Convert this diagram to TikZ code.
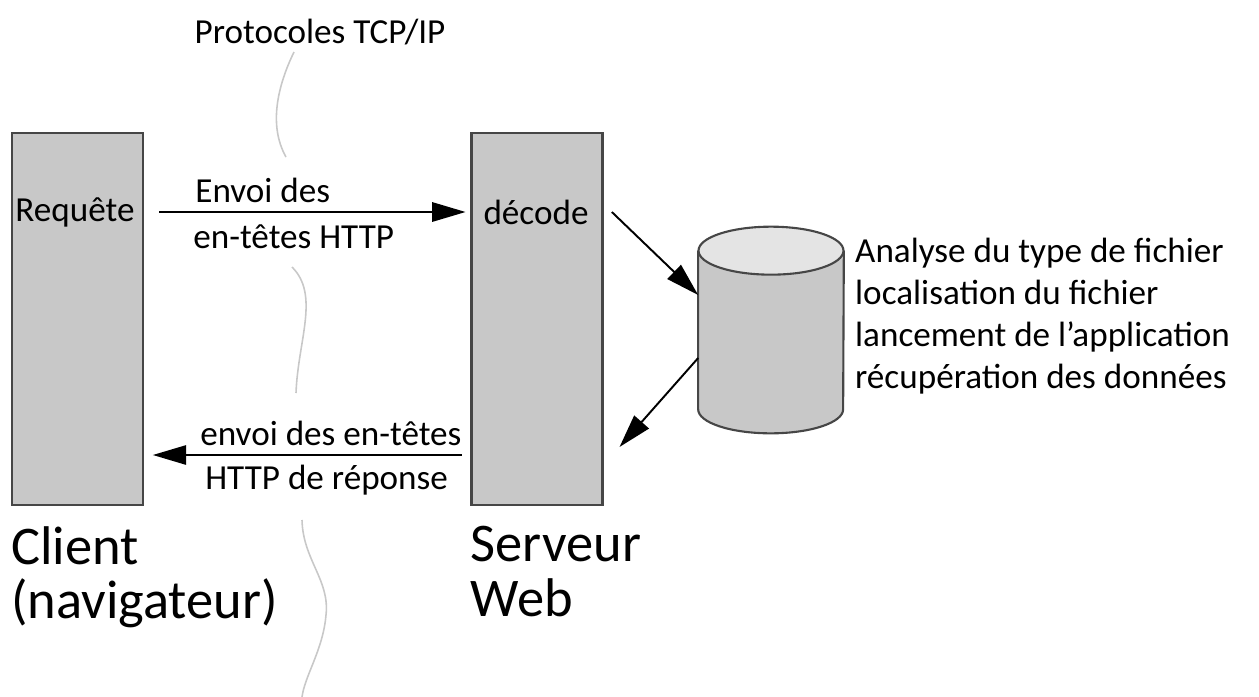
\documentclass[tikz,border=0pt]{standalone}
\usepackage{fontspec}
\setmainfont{Carlito}
\usetikzlibrary{arrows.meta,positioning}

\definecolor{boxgray}{RGB}{200,200,200}
\definecolor{edgegray}{RGB}{70,70,70}
\definecolor{topgray}{RGB}{228,228,228}
\definecolor{wavegray}{RGB}{200,200,200}

\tikzset{
  host/.style={draw=edgegray, fill=boxgray, line width=1.2pt,
    minimum width=2.62cm, minimum height=7.44cm, inner sep=0pt},
  db/.style={minimum width=2.9cm, minimum height=4.12cm, inner sep=0pt},
  dbline/.style={draw=edgegray, line width=1.2pt},
  lbl/.style={font=\fontsize{20}{24}\selectfont, inner sep=0pt, align=left},
  big/.style={font=\fontsize{31}{31}\selectfont, inner sep=0pt, align=left},
  msg/.style={-{Triangle[length=19pt,width=11pt]}, line width=1.1pt},
  wave/.style={draw=wavegray, line width=0.9pt},
}

\begin{document}
\begin{tikzpicture}[x=0.02cm, y=-0.02cm]
    \useasboundingbox (0,0) rectangle (1259,697);

    % Protocol boundary
    \node[lbl] (tcp) at (320,32) {Protocoles TCP/IP};
    \draw[wave] (294,52) .. controls (278,85) and (268,125) .. (286,157);
    \draw[wave] (292,267) .. controls (320,295) and (298,340) .. (296,393);
    \draw[wave] (302,520) .. controls (303,560) and (330,580) .. (326,615)
        .. controls (323,650) and (305,675) .. (302,697);

    % Hosts
    \node[host] (client) at (77.5,319) {};
    \node[host] (serveur) at (537,319) {};
    \node[lbl] (requete) at (75,212) {Requête};
    \node[lbl] (decode) at (536,212) {décode};
    \node[big, below right=0.4cm and 0cm of client.south west] (nclient) {Client\\(navigateur)};
    \node[big, below right=0.4cm and 0cm of serveur.south west] (nserveur) {Serveur\\Web};

    % Request
    \node[lbl, anchor=west] (envoi) at (195,190) {Envoi des};
    \node[lbl, anchor=west] (entetes) at (193,237) {en-têtes HTTP};
    \draw[msg, shorten <=14pt, shorten >=10pt] (requete) -- (decode);

    % Response
    \coordinate (retour) at (300,455);
    \node[lbl, anchor=west] (envoir) at (200,433) {envoi des en-têtes};
    \node[lbl, anchor=west] (reponse) at (205,480) {HTTP de réponse};
    \draw[msg, shorten <=5pt, shorten >=5pt] (serveur.west |- retour) -- (client.east |- retour);

    % Processing (cylinder)
    \node[db] (fichiers) at (771,330) {};
    \path[dbline, fill=boxgray] ([yshift=-0.48cm]fichiers.north west)
        -- ([yshift=0.48cm]fichiers.south west)
        arc[start angle=180, end angle=360, x radius=1.45cm, y radius=0.48cm]
        -- ([yshift=-0.48cm]fichiers.north east);
    \path[dbline, fill=topgray] ([yshift=-0.48cm]fichiers.north)
        ellipse[x radius=1.45cm, y radius=0.48cm];
    \node[lbl, right=0.22cm of fichiers, yshift=0.28cm] (analyse)
        {Analyse du type de fichier\\localisation du fichier\\lancement de l'application\\récupération des données};
    \draw[msg] ([xshift=0.46cm]decode.east) -- ([yshift=0.7cm]fichiers.west);
    \draw[msg] ([yshift=-0.56cm]fichiers.west) -- ([xshift=0.32cm, yshift=-2.56cm]serveur.east);
\end{tikzpicture}
\end{document}
